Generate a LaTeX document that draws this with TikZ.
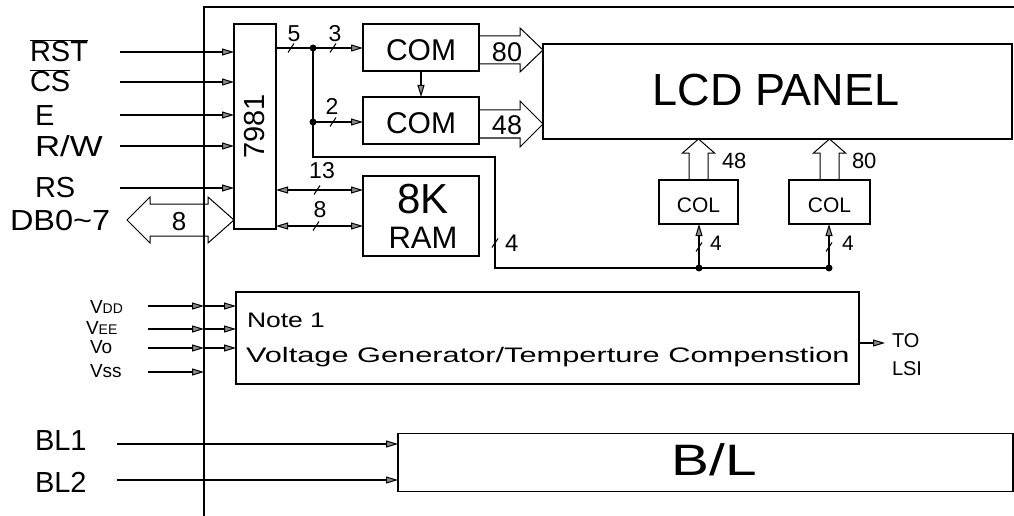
\documentclass[tikz,border=0pt]{standalone}
\usepackage{fontspec}
\setmainfont{Liberation Sans}
\usepackage{graphicx}
\usetikzlibrary{arrows.meta}
\newcommand\fs[1]{\fontsize{#1}{#1}\selectfont}
\newcommand\hx[2]{\scalebox{#1}[1]{#2}}
\begin{document}
\begin{tikzpicture}[x=1pt,y=-1pt,line width=1.2pt,
  box/.style={draw,rectangle,line width=1.2pt,inner sep=0pt,outer sep=0pt},
  lbl/.style={inner sep=0pt,outer sep=0pt},
  tip/.tip={Triangle[length=12pt,width=7pt,line width=1pt,fill=black!45]},
  arr/.style={-tip},
  darr/.style={tip-tip},
  dot/.style={circle,fill,inner sep=0pt,minimum size=7pt},
  tk/.style={line width=1pt}]
\useasboundingbox (0,0) rectangle (1014,516);
% frame
\coordinate (fTL) at (204,7);
\draw (204,516) -- (fTL) -- (1014,7);
% boxes
\node[box,minimum width=42pt,minimum height=205pt] (u) at (255,126.5) {\fs{29}\rotatebox{90}{7981}};
\node[box,minimum width=116pt,minimum height=47pt] (com1) at (421,47.5) {};
\node[box,minimum width=116pt,minimum height=47pt] (com2) at (421,120.5) {};
\node[box,minimum width=469pt,minimum height=95pt] (lcd) at (777.5,91.5) {};
\node[box,minimum width=116pt,minimum height=80pt] (ram) at (421,216) {};
\node[box,minimum width=79pt,minimum height=44pt] (col1) at (698.5,202) {};
\node[box,minimum width=81pt,minimum height=44pt] (col2) at (829.5,202) {};
\node[box,minimum width=623pt,minimum height=92pt] (vgen) at (547.5,338) {};
\node[box,minimum width=615pt,minimum height=58pt] (bl) at (705.5,462.5) {};
% box texts
\node[lbl,anchor=base] (com1t) at (421,61) {\fs{30}COM};
\node[lbl,anchor=base] (com2t) at (421,134) {\fs{30}COM};
\node[lbl,anchor=base] (lcdt) at (776,106) {\fs{45}LCD PANEL};
\node[lbl,anchor=base] (ramt1) at (423,213) {\fs{42}8K};
\node[lbl,anchor=base] (ramt2) at (423,248) {\fs{31}RAM};
\node[lbl,anchor=base] (col1t) at (698.5,212) {\fs{21}COL};
\node[lbl,anchor=base] (col2t) at (829.5,212) {\fs{21}COL};
\node[lbl,anchor=base west] (note) at (247,327) {\fs{21}\hx{1.26}{Note 1}};
\node[lbl,anchor=base west] (vgt) at (246,362) {\fs{21}\hx{1.465}{Voltage Generator/Temperture Compenstion}};
\node[lbl,anchor=base] (blt) at (714.5,475) {\fs{44}\hx{1.29}{B/L}};
% left labels
\node[lbl,anchor=base west] (rstL) at (30,62) {\fs{29}$\overline{\mbox{RST}}$};
\node[lbl,anchor=base west] (csL) at (30,92) {\fs{29}$\overline{\mbox{CS}}$};
\node[lbl,anchor=base west] (eL) at (35,125) {\fs{29}E};
\node[lbl,anchor=base west] (rwL) at (35,157) {\fs{29}\hx{1.2}{R/W}};
\node[lbl,anchor=base west] (rsL) at (35,197) {\fs{29}RS};
\node[lbl,anchor=base west] (dbL) at (10,230) {\fs{29}\hx{1.12}{DB0\char"7E\relax 7}};
\node[lbl,anchor=base west] (bl1L) at (35,450) {\fs{29}BL1};
\node[lbl,anchor=base west] (bl2L) at (35,492) {\fs{29}BL2};
\node[lbl,anchor=base west] (vddL) at (90,313) {\fs{19}V{\fs{14}DD}};
\node[lbl,anchor=base west] (veeL) at (86,334) {\fs{19}V{\fs{14}EE}};
\node[lbl,anchor=base west] (voL) at (90,353) {\fs{19}Vo};
\node[lbl,anchor=base west] (vssL) at (90,377) {\fs{19}Vss};
\node[lbl,anchor=base west] (toL) at (892,347) {\fs{20}TO};
\node[lbl,anchor=base west] (lsiL) at (892,375) {\fs{20}LSI};
% inputs to 7981
\coordinate (rstS) at (120,52);
\coordinate (csS) at (120,82);
\coordinate (eS) at (120,115);
\coordinate (rwS) at (120,146);
\coordinate (rsS) at (120,188);
\draw[arr] (rstS) -- (u.west |- rstS);
\draw[arr] (csS) -- (u.west |- csS);
\draw[arr] (eS) -- (u.west |- eS);
\draw[arr] (rwS) -- (u.west |- rwS);
\draw[arr] (rsS) -- (u.west |- rsS);
% DB double fat arrow
\draw[line width=1pt] (127,220) -- (150,197) -- (150,204) -- (208,204) -- (208,197) -- (u.west |- 0,220) -- (208,243) -- (208,236) -- (150,236) -- (150,243) -- cycle;
\node[lbl,anchor=base] (db8) at (179,230) {\fs{26}8};
% bus from 7981
\coordinate (j1) at (313,48);
\coordinate (j2) at (313,122);
\coordinate (c1) at (313,157);
\coordinate (c2) at (495,157);
\coordinate (c3) at (495,268);
\coordinate (j3) at (699,268);
\coordinate (j4) at (829,268);
\draw (u.east |- j1) -- (j1);
\draw[arr] (j1) -- (com1.west |- j1);
\draw[arr] (j2) -- (com2.west |- j2);
\draw (j1) -- (j2) -- (c1) -- (c2) -- (c3) -- (j4);
\draw[arr] (j3) -- (j3 |- col1.south);
\draw[arr] (j4) -- (j4 |- col2.south);
\node[dot] (d1) at (j1) {};
\node[dot] (d2) at (j2) {};
\node[dot] (d3) at (j3) {};
\node[dot] (d4) at (j4) {};
\draw[arr] (com1.south) -- (com2.north);
% bus ticks
\draw[tk] (288,52.5) -- (294,43.5);
\draw[tk] (330,52.5) -- (336,43.5);
\draw[tk] (330,126.5) -- (336,117.5);
\draw[tk] (314,194.5) -- (320,185.5);
\draw[tk] (313,230.5) -- (319,221.5);
\draw[tk] (492,247.5) -- (498,238.5);
\draw[tk] (696,251.5) -- (702,242.5);
\draw[tk] (826,251.5) -- (832,242.5);
% bus labels
\node[lbl,anchor=base] (n5) at (294,42) {\fs{23}5};
\node[lbl,anchor=base] (n3) at (335,42) {\fs{23}3};
\node[lbl,anchor=base] (n2) at (332,115) {\fs{23}2};
\node[lbl,anchor=base] (n13) at (322,178) {\fs{23}13};
\node[lbl,anchor=base] (n8) at (320,217) {\fs{23}8};
\node[lbl,anchor=base west] (n4a) at (505,251) {\fs{24}4};
\node[lbl,anchor=base west] (n4b) at (710,250) {\fs{21}4};
\node[lbl,anchor=base west] (n4c) at (842,250) {\fs{21}4};
% 7981 <-> RAM
\coordinate (b1) at (300,190);
\coordinate (b2) at (300,226);
\draw[darr] (u.east |- b1) -- (ram.west |- b1);
\draw[darr] (u.east |- b2) -- (ram.west |- b2);
% fat arrows COM -> LCD
\draw[line width=1pt] (com1.east |- 0,36) -- (520,36) -- (520,28) -- (lcd.west |- 0,50) -- (520,72) -- (520,64) -- (com1.east |- 0,64);
\draw[line width=1pt] (com2.east |- 0,110) -- (520,110) -- (520,101) -- (lcd.west |- 0,124) -- (520,147) -- (520,138) -- (com2.east |- 0,138);
\node[lbl,anchor=base] (f80) at (507,62) {\fs{27}80};
\node[lbl,anchor=base] (f48) at (507,135) {\fs{27}48};
% fat arrows COL -> LCD
\draw[line width=1pt] (689,180) -- (689,153) -- (682.5,153) -- (698.5,139) -- (714.5,153) -- (708,153) -- (708,180);
\draw[line width=1pt] (820,180) -- (820,153) -- (813.5,153) -- (829.5,139) -- (845.5,153) -- (839,153) -- (839,180);
\node[lbl,anchor=base west] (c48) at (722,168) {\fs{22}48};
\node[lbl,anchor=base west] (c80) at (852,168) {\fs{22}80};
% voltage inputs
\coordinate (vddS) at (148,306);
\coordinate (veeS) at (148,329);
\coordinate (voS) at (148,348);
\coordinate (vssS) at (148,372);
\coordinate (vddF) at (204,306);
\coordinate (veeF) at (204,329);
\coordinate (voF) at (204,348);
\coordinate (vssF) at (204,372);
\draw[arr] (vddS) -- (vddF);
\draw[arr] (veeS) -- (veeF);
\draw[arr] (voS) -- (voF);
\draw[arr] (vssS) -- (vssF);
\draw[arr] (vddF) -- (vgen.west |- vddF);
\draw[arr] (veeF) -- (vgen.west |- veeF);
\draw[arr] (voF) -- (vgen.west |- voF);
% to LSI
\coordinate (toE) at (885,343);
\draw[arr] (vgen.east |- toE) -- (toE);
% backlight
\coordinate (bl1S) at (117,444);
\coordinate (bl2S) at (117,480);
\draw[arr] (bl1S) -- (bl.west |- bl1S);
\draw[arr] (bl2S) -- (bl.west |- bl2S);
\end{tikzpicture}
\end{document}
